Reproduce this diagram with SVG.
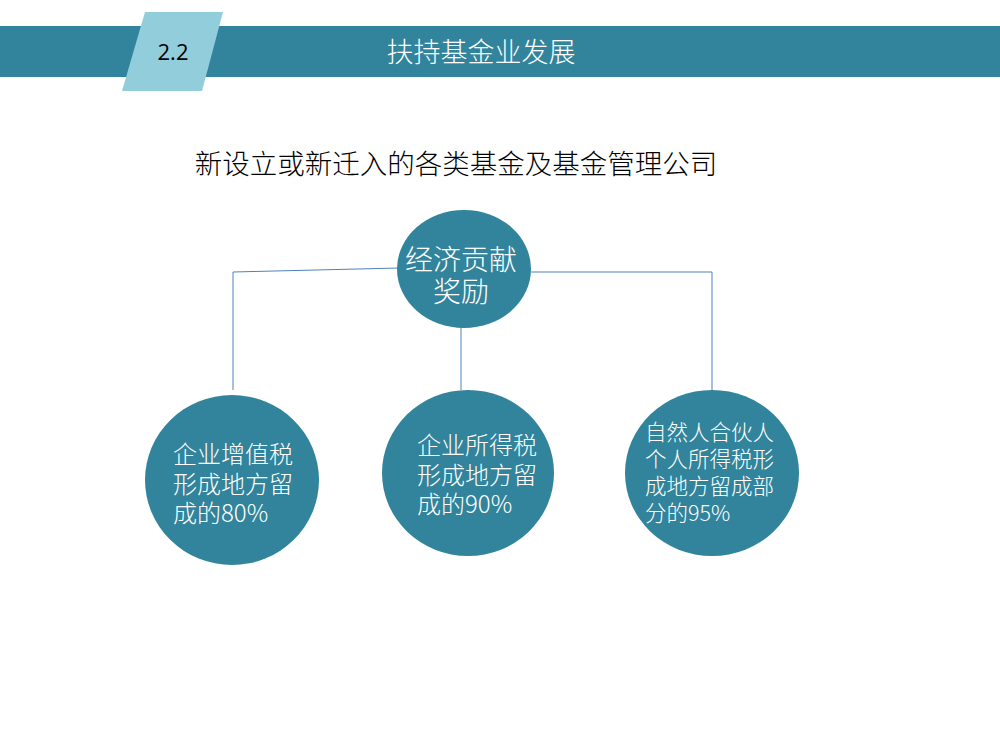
<svg xmlns="http://www.w3.org/2000/svg" width="1000" height="750" viewBox="0 0 1000 750">
<style>
.cjk{font-family:"Noto Sans CJK SC","Noto Sans",sans-serif;}
.node{fill:#31849B;}
.nt{fill:#FFFFFF;font-family:"Noto Sans CJK SC","Noto Sans",sans-serif;font-weight:300;}
.conn{fill:none;stroke:#4F81BD;stroke-width:1;}
</style>
<rect width="1000" height="750" fill="#FFFFFF"/>
<g id="header">
<rect x="0" y="26" width="1000" height="51" fill="#31849B"/>
<polygon points="145,12 223,12 202,91 122,91" fill="#92CDDC"/>
<text x="173" y="60" font-size="22" text-anchor="middle" fill="#000000" font-family="'Open Sans','Liberation Sans',sans-serif">2.2</text>
<text x="481" y="62" font-size="27" text-anchor="middle" fill="#FFFFFF" class="cjk" font-weight="300">扶持基金业发展</text>
</g>
<g id="subtitle">
<text x="456" y="174" font-size="27.5" text-anchor="middle" fill="#000000" class="cjk" font-weight="300">新设立或新迁入的各类基金及基金管理公司</text>
</g>
<g id="connectors">
<polyline class="conn" points="399,268 233,272 233,390"/>
<polyline class="conn" points="531,272 712,272 712,390"/>
<line class="conn" x1="461" y1="327" x2="461" y2="390"/>
</g>
<g id="node-top">
<ellipse class="node" cx="464" cy="269" rx="67" ry="59"/>
<text class="nt" font-size="28" text-anchor="middle"><tspan x="461" y="270">经济贡献</tspan><tspan x="461" y="302">奖励</tspan></text>
</g>
<g id="node-left">
<ellipse class="node" cx="232" cy="480" rx="87" ry="85"/>
<text class="nt" font-size="24"><tspan x="173" y="463">企业增值税</tspan><tspan x="173" y="493">形成地方留</tspan><tspan x="173" y="522">成的80%</tspan></text>
</g>
<g id="node-middle">
<ellipse class="node" cx="468" cy="473" rx="86" ry="83"/>
<text class="nt" font-size="24"><tspan x="417" y="454">企业所得税</tspan><tspan x="417" y="484">形成地方留</tspan><tspan x="417" y="513">成的90%</tspan></text>
</g>
<g id="node-right">
<ellipse class="node" cx="712" cy="473" rx="87" ry="83"/>
<text class="nt" font-size="21.5"><tspan x="645" y="440">自然人合伙人</tspan><tspan x="645" y="467">个人所得税形</tspan><tspan x="645" y="494">成地方留成部</tspan><tspan x="645" y="521">分的95%</tspan></text>
</g>
</svg>
